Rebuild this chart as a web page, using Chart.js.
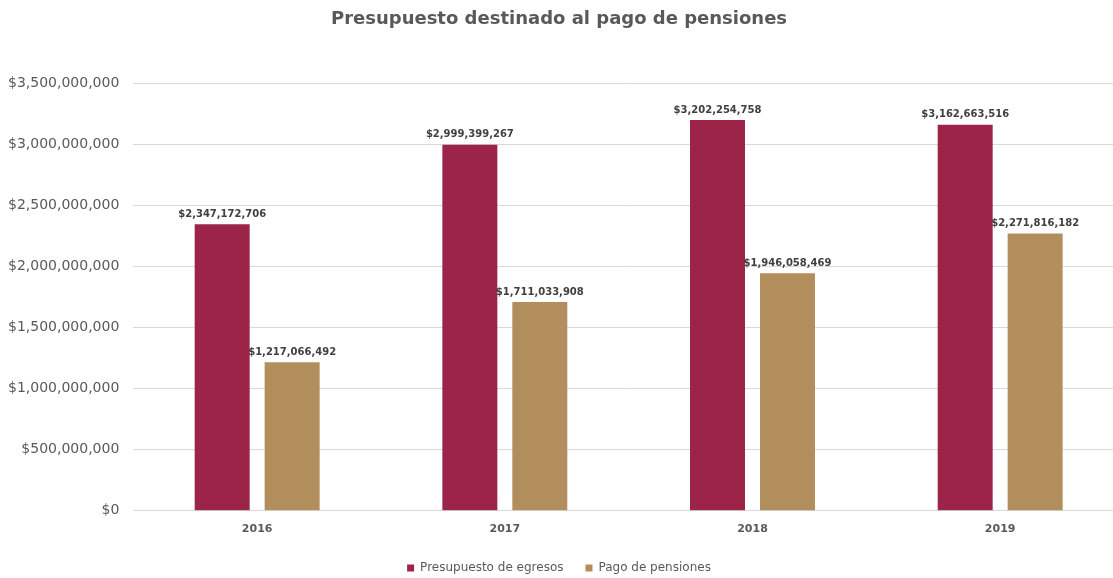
<!DOCTYPE html>
<html>
<head>
<meta charset="utf-8">
<script src="https://cdn.jsdelivr.net/npm/chart.js@4"></script>
<style>
  html, body { margin: 0; padding: 0; background: #fff; overflow: hidden; }
  #wrap { width: 1124px; height: 578px; }
</style>
</head>
<body>
<div id="wrap"><canvas id="chartPensiones"></canvas></div>
<script>
const years = ["2016", "2017", "2018", "2019"];
const egresos = [2347172706, 2999399267, 3202254758, 3162663516];
const pensiones = [1217066492, 1711033908, 1946058469, 2271816182];
const yTicks = [0, 500000000, 1000000000, 1500000000, 2000000000, 2500000000, 3000000000, 3500000000];

const money = (v) => "$" + Math.round(v).toLocaleString("en-US");

// etiquetas encima de cada barra
const barLabels = {
  id: "barLabels",
  afterDatasetsDraw(chart) {
    const ctx = chart.ctx;
    ctx.save();
    ctx.font = "bold 10px 'DejaVu Sans'";
    ctx.fillStyle = "#404040";
    ctx.textAlign = "center";
    ctx.textBaseline = "bottom";
    chart.data.datasets.forEach((ds, i) => {
      chart.getDatasetMeta(i).data.forEach((bar, j) => {
        ctx.fillText(money(ds.data[j]), bar.x, bar.y - 5);
      });
    });
    ctx.restore();
  },
};

document.addEventListener("DOMContentLoaded", () => {
  new Chart(document.querySelector("#chartPensiones"), {
    type: "bar",
    data: {
      labels: years,
      datasets: [
        {
          label: "Presupuesto de egresos",
          data: egresos,
          backgroundColor: "#9D2449",
          barPercentage: 0.786,
          categoryPercentage: 0.565,
        },
        {
          label: "Pago de pensiones",
          data: pensiones,
          backgroundColor: "#B38E5D",
          barPercentage: 0.786,
          categoryPercentage: 0.565,
        },
      ],
    },
    options: {
      responsive: true,
      maintainAspectRatio: false,
      animation: false,
      layout: { padding: { left: -6, right: 0, top: 9, bottom: -6 } },
      scales: {
        x: {
          grid: { display: false },
          border: { color: "#d9d9d9" },
          ticks: { color: "#595959", font: { family: "DejaVu Sans", size: 11, weight: "bold" }, padding: 4 },
        },
        y: {
          min: 0,
          max: 3500000000,
          afterBuildTicks: (axis) => { axis.ticks = yTicks.map((v) => ({ value: v })); },
          grid: { color: "#d9d9d9", drawTicks: false },
          border: { display: false },
          ticks: { color: "#595959", font: { family: "DejaVu Sans", size: 14 }, padding: 14, callback: (v) => money(v) },
        },
      },
      plugins: {
        title: {
          display: true,
          text: "Presupuesto destinado al pago de pensiones",
          color: "#595959",
          font: { family: "DejaVu Sans", size: 18, weight: "bold" },
          padding: { top: 0, bottom: 53 },
        },
        legend: {
          position: "bottom",
          labels: {
            color: "#595959",
            font: { family: "DejaVu Sans", size: 12 },
            usePointStyle: true,
            pointStyle: "rect",
            boxWidth: 7,
            boxHeight: 7,
            padding: 22,
          },
        },
        tooltip: { enabled: false },
      },
    },
    plugins: [barLabels],
  });
});
</script>
</body>
</html>
